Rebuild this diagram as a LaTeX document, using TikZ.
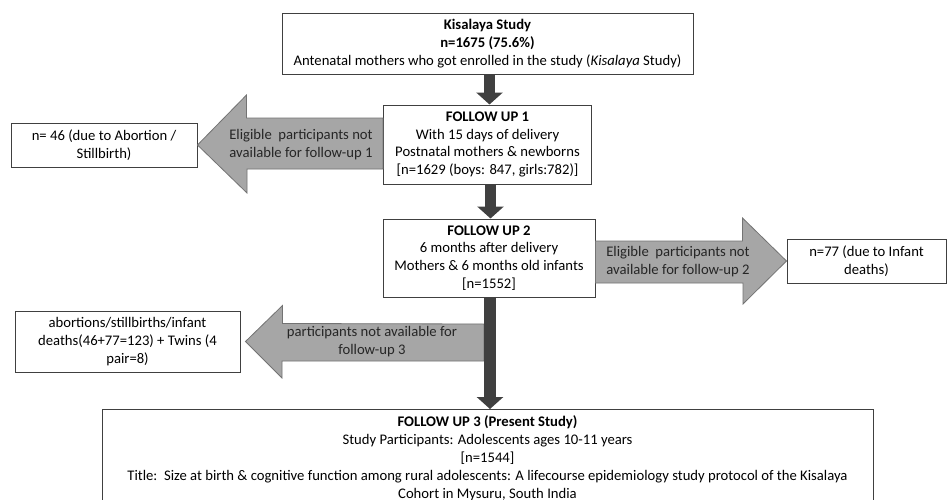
\documentclass[tikz,border=0pt]{standalone}
\usepackage{fontspec}
\setmainfont{Carlito}
\usetikzlibrary{arrows.meta}
\tikzset{>=stealth}
\tikzset{
  box/.style={draw=black!75,line width=0.75pt,fill=white,align=center,inner sep=2pt,
    font=\fontsize{11}{13.4}\selectfont},
  sidearrow/.style={draw=black!55,line width=0.6pt,fill=black!35},
  arrowtext/.style={align=center,inner sep=0pt,text=black!85,font=\fontsize{11}{13.5}\selectfont},
  down/.style={draw=black!75,line width=8.5pt,-{Triangle[width=19.5pt,length=9pt]}}
}

\begin{document}
\begin{tikzpicture}[x=0.75pt,y=-0.75pt]
\useasboundingbox[fill=white] (0,0) rectangle (947,500);
% boxes
\node[box,minimum width=308.25pt,minimum height=45.75pt] (kis) at (487.5,43.5)
  {\textbf{Kisalaya Study}\\ \textbf{n=1675 (75.6\%)}\\
   Antenatal mothers who got enrolled in the study (\textit{Kisalaya} Study)};
\node[box,minimum width=156pt,minimum height=59.25pt] (fu1) at (487.5,144.5)
  {\textbf{FOLLOW UP 1}\\ With 15 days of delivery\\ Postnatal mothers \& newborns\\
   {[n=1629 (boys: 847, girls:782)]}};
\node[box,minimum width=139.5pt,minimum height=33pt] (n46) at (104,145)
  {n= 46 (due to Abortion /\\ Stillbirth)};
\node[box,minimum width=159pt,minimum height=58.5pt] (fu2) at (489,258)
  {\textbf{FOLLOW UP 2}\\ 6 months after delivery\\ Mothers \& 6 months old infants\\ {[n=1552]}};
\node[box,minimum width=119.25pt,minimum height=33pt] (n77) at (866.5,261)
  {n=77 (due to Infant\\ deaths)};
\node[box,minimum width=168.75pt,minimum height=45.75pt] (lost) at (127.5,341.5)
  {abortions/stillbirths/infant\\ deaths(46+77=123) + Twins (4\\ pair=8)};
\node[box,anchor=north,minimum width=578.25pt,minimum height=73pt] (fu3) at (487.5,409)
  {\textbf{FOLLOW UP 3 (Present Study)}\\ Study Participants: Adolescents ages 10-11 years\\ {[n=1544]}\\
   Title:\ \ Size at birth \& cognitive function among rural adolescents: A lifecourse epidemiology study protocol of the Kisalaya\\
   Cohort in Mysuru, South India};

% side arrows
\filldraw[sidearrow] (n46.east) -- ++(49,-50) -- ++(0,23) -- (fu1.west |- 0,118)
  -- (fu1.west |- 0,169) -- (247,169) -- ++(0,24) -- cycle;
\node[arrowtext] (out1) at (301,145) {Eligible\ \ participants not\\ available for follow-up 1};
\filldraw[sidearrow] (n77.west) -- ++(-44,-43) -- ++(0,23) -- (fu2.east |- 0,241)
  -- (fu2.east |- 0,283) -- (743,283) -- ++(0,21) -- cycle;
\node[arrowtext] (out2) at (678,262) {Eligible\ \ participants not\\ available for follow-up 2};
\filldraw[sidearrow] (lost.east) ++(5,0) -- ++(37,-36) -- ++(0,18) -- (484,324)
  -- (484,361) -- (282,361) -- ++(0,17) -- cycle;
\node[arrowtext] (out3) at (372,342) {participants not available for\\ follow-up 3};

% down arrows
\draw[down] (fu1.north |- kis.south) ++(2,0) -- ([xshift=1.5pt]fu1.north);
\draw[down] (fu1.south) ++(3,0) -- ([xshift=2.25pt]fu1.south |- fu2.north);
\draw[down] (fu2.south) ++(1,0) -- ([xshift=0.75pt]fu2.south |- fu3.north);
\end{tikzpicture}
\end{document}
